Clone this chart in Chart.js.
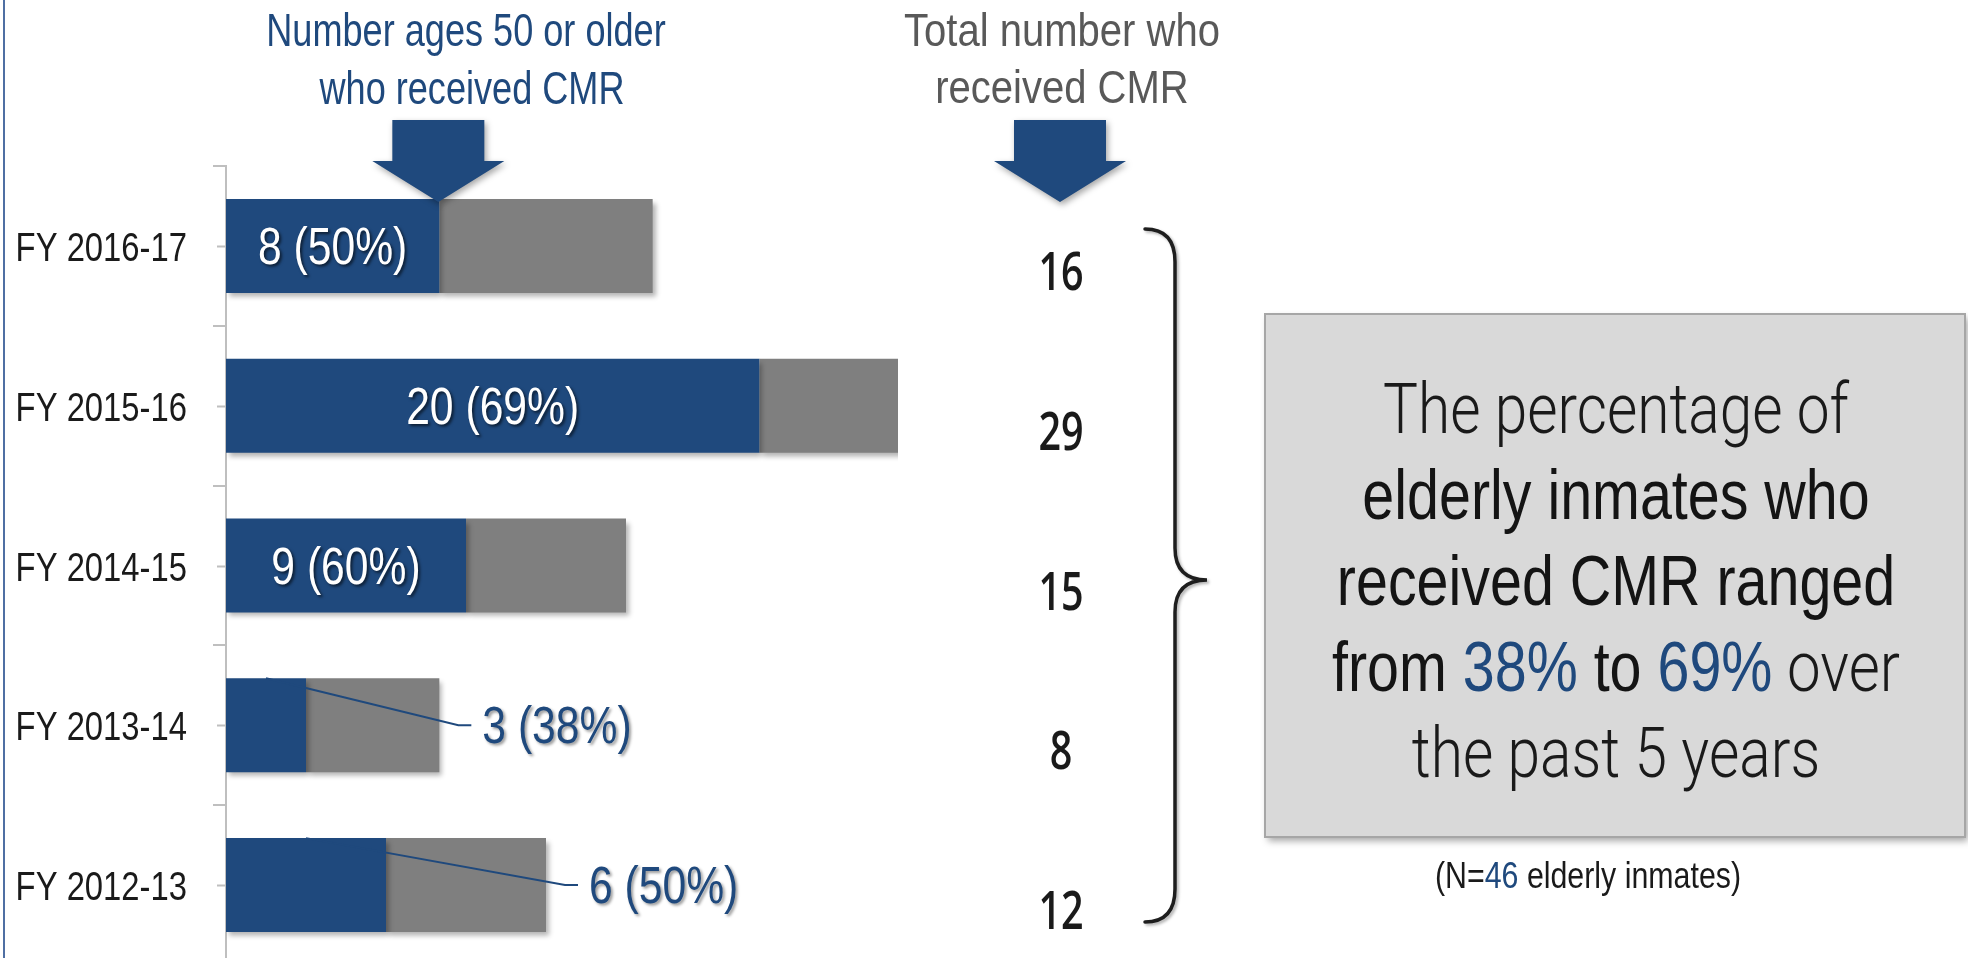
<!DOCTYPE html>
<html>
<head>
<meta charset="utf-8">
<title>Elderly inmates who received CMR</title>
<script src="https://cdn.jsdelivr.net/npm/chart.js@4.4.1/dist/chart.umd.min.js"></script>
<style>
  html, body { margin: 0; padding: 0; background: #ffffff; overflow: hidden; width: 1968px; height: 958px; }
  #wrap { position: absolute; left: 0; top: 0; width: 1968px; height: 980px; }
  canvas { display: block; }
</style>
</head>
<body>
<div id="wrap"><canvas id="cmr" width="1968" height="980"></canvas></div>
<script>
// Fiscal years, newest first (top bar)
const fiscalYears = ['FY 2016-17', 'FY 2015-16', 'FY 2014-15', 'FY 2013-14', 'FY 2012-13'];
// Inmates aged 50 or older who received CMR
const olderCounts = [8, 20, 9, 3, 6];
// Total inmates who received CMR
const totalCounts = [16, 29, 15, 8, 12];
// Range of the value scale (the 29 bar runs past it and is clipped)
const valueAxisMax = 25.2;
// Elderly population in the note under the box
const elderlyTotal = 46;

// Gray segment: the rest of each total
const remainderCounts = totalCounts.map((t, i) => t - olderCounts[i]);
const percentOlder = olderCounts.map((v, i) => Math.round(v / totalCounts[i] * 100));
const valueLabels = olderCounts.map((v, i) => v + ' (' + percentOlder[i] + '%)');

const SANS = '"Liberation Sans", Arial, sans-serif';
const LIGHT = 'Roboto, "Liberation Sans", sans-serif';
const NUMS = '"Open Sans", "Liberation Sans", sans-serif';
const NARROW_X = 0.82;          // horizontal squeeze that turns Arial metrics into Arial Narrow
const BLUE = '#1f497d';
const GRAY_BAR = '#7f7f7f';
const INK = '#1a1a1a';

// Text drawn with a horizontal squeeze; align is 'left' | 'center' | 'right'
function narrowWidth(ctx, text, size, weight, family, sx) {
  ctx.font = (weight || 'normal') + ' ' + size + 'px ' + (family || SANS);
  return ctx.measureText(text).width * (sx || NARROW_X);
}
function narrowText(ctx, text, x, y, opt) {
  const sx = opt.sx || NARROW_X;
  const w = narrowWidth(ctx, text, opt.size, opt.weight, opt.family, sx);
  let x0 = x;
  if (opt.align === 'center') x0 = x - w / 2;
  else if (opt.align === 'right') x0 = x - w;
  ctx.save();
  ctx.fillStyle = opt.color || INK;
  ctx.textAlign = 'left';
  ctx.textBaseline = opt.baseline || 'alphabetic';
  ctx.translate(x0, y);
  ctx.scale(sx, 1);
  ctx.fillText(text, 0, 0);
  ctx.restore();
  return w;
}

// A centred line made of differently styled runs
function drawRuns(ctx, runs, cx, baseline) {
  runs.forEach(r => {
    if (r.light) {
      // light face squeezed to the width the narrow face would take
      const target = narrowWidth(ctx, r.text, r.size, 'normal', SANS, NARROW_X);
      const natural = narrowWidth(ctx, r.text, r.size, '300', LIGHT, 1);
      r.family = LIGHT; r.weight = '300'; r.sx = target / natural;
    }
    r.w = narrowWidth(ctx, r.text, r.size, r.weight, r.family, r.sx);
  });
  const total = runs.reduce((s, r) => s + r.w, 0);
  let x = cx - total / 2;
  runs.forEach(r => {
    narrowText(ctx, r.text, x, baseline, r);
    x += r.w;
  });
}

function drawArrow(ctx, cx, shaftHalf, headHalf, top, base, tip) {
  ctx.save();
  ctx.shadowColor = 'rgba(0,0,0,0.35)';
  ctx.shadowBlur = 6;
  ctx.shadowOffsetX = 2;
  ctx.shadowOffsetY = 3;
  ctx.fillStyle = BLUE;
  ctx.beginPath();
  ctx.moveTo(cx - shaftHalf, top);
  ctx.lineTo(cx + shaftHalf, top);
  ctx.lineTo(cx + shaftHalf, base);
  ctx.lineTo(cx + headHalf, base);
  ctx.lineTo(cx, tip);
  ctx.lineTo(cx - headHalf, base);
  ctx.lineTo(cx - shaftHalf, base);
  ctx.closePath();
  ctx.fill();
  ctx.restore();
}

const barShadow = {
  id: 'barShadow',
  beforeDatasetsDraw(chart) {
    const ctx = chart.ctx;
    ctx.save();
    ctx.shadowColor = 'rgba(0,0,0,0.30)';
    ctx.shadowBlur = 5;
    ctx.shadowOffsetX = 3;
    ctx.shadowOffsetY = 4;
  },
  afterDatasetsDraw(chart) {
    chart.ctx.restore();
  }
};

const LABEL_SIZE = 52;

const decorations = {
  id: 'decorations',
  afterDraw(chart) {
    const ctx = chart.ctx;
    const xs = chart.scales.x;
    const ys = chart.scales.y;
    const area = chart.chartArea;

    // slide border on the left
    ctx.save();
    ctx.strokeStyle = '#4f6fa3';
    ctx.lineWidth = 2;
    ctx.beginPath();
    ctx.moveTo(4, 0);
    ctx.lineTo(4, chart.height);
    ctx.stroke();
    ctx.restore();

    // category labels and the short tick at each category centre
    ctx.save();
    ctx.strokeStyle = '#bfbfbf';
    ctx.lineWidth = 2;
    chart.data.labels.forEach((lab, i) => {
      const yc = ys.getPixelForTick(i);
      const y = Math.round(yc) + 0.5;
      ctx.beginPath();
      ctx.moveTo(area.left - 9, y);
      ctx.lineTo(area.left, y);
      ctx.stroke();
      narrowText(ctx, lab, area.left - 39, yc + 15, { size: 41, align: 'right', color: INK, sx: 0.8 });
    });
    ctx.restore();

    // column headings
    narrowText(ctx, 'Number ages 50 or older', 466, 46, { size: 46, align: 'center', color: BLUE, sx: 0.785 });
    narrowText(ctx, 'who received CMR', 472, 104, { size: 46, align: 'center', color: BLUE, sx: 0.785 });
    narrowText(ctx, 'Total number who', 1062, 46, { size: 46, align: 'center', color: '#595959', sx: 0.87 });
    narrowText(ctx, 'received CMR', 1062, 103, { size: 46, align: 'center', color: '#595959', sx: 0.87 });

    // arrows: the first points at the end of the top blue bar
    const tipX = xs.getPixelForValue(olderCounts[0]);
    drawArrow(ctx, tipX - 1, 46, 66, 120, 161, 202);
    drawArrow(ctx, 1060, 46, 66, 120, 161, 202);

    // value labels for the 50+ segment: inside when there is room, else outside with a leader
    const blueMeta = chart.getDatasetMeta(0);
    const grayMeta = chart.getDatasetMeta(1);
    valueLabels.forEach((txt, i) => {
      const bar = blueMeta.data[i];
      const grayBar = grayMeta.data[i];
      const left = xs.getPixelForValue(0);
      const right = bar.x;
      const cy = bar.y;
      const half = bar.height / 2;
      const w = narrowWidth(ctx, txt, LABEL_SIZE);
      const base = cy + 18;
      if (w + 50 < right - left) {
        ctx.save();
        ctx.shadowColor = 'rgba(0,0,0,0.6)';
        ctx.shadowBlur = 3;
        ctx.shadowOffsetX = 2;
        ctx.shadowOffsetY = 2;
        narrowText(ctx, txt, (left + right) / 2, base, { size: LABEL_SIZE, align: 'center', color: '#ffffff' });
        ctx.restore();
      } else {
        const labelLeft = Math.min(grayBar.x, area.right) + 43;
        ctx.save();
        ctx.strokeStyle = BLUE;
        ctx.lineWidth = 2;
        ctx.beginPath();
        ctx.moveTo((left + right) / 2, cy - half);
        ctx.lineTo(labelLeft - 24, cy);
        ctx.lineTo(labelLeft - 11, cy);
        ctx.stroke();
        ctx.restore();
        ctx.save();
        ctx.shadowColor = 'rgba(0,0,0,0.4)';
        ctx.shadowBlur = 3;
        ctx.shadowOffsetX = 2;
        ctx.shadowOffsetY = 2;
        narrowText(ctx, txt, labelLeft, base, { size: LABEL_SIZE, align: 'left', color: BLUE });
        ctx.restore();
      }
    });

    // totals column
    totalCounts.forEach((t, i) => {
      narrowText(ctx, String(t), 1061, ys.getPixelForValue(i) + 26 + 18,
        { size: 52, weight: '600', family: NUMS, sx: 0.76, align: 'center', color: INK });
    });

    // curly brace grouping the totals
    ctx.save();
    ctx.shadowColor = 'rgba(0,0,0,0.3)';
    ctx.shadowBlur = 3;
    ctx.shadowOffsetX = 2;
    ctx.shadowOffsetY = 2;
    ctx.strokeStyle = '#1e1e1e';
    ctx.lineWidth = 3.5;
    ctx.lineCap = 'round';
    ctx.beginPath();
    ctx.moveTo(1145, 229);
    ctx.quadraticCurveTo(1175, 229, 1175, 262);
    ctx.lineTo(1175, 548);
    ctx.quadraticCurveTo(1175, 580, 1207, 580);
    ctx.quadraticCurveTo(1175, 580, 1175, 612);
    ctx.lineTo(1175, 889);
    ctx.quadraticCurveTo(1175, 922, 1145, 922);
    ctx.stroke();
    ctx.restore();

    // summary box
    ctx.save();
    ctx.shadowColor = 'rgba(0,0,0,0.35)';
    ctx.shadowBlur = 7;
    ctx.shadowOffsetX = 3;
    ctx.shadowOffsetY = 4;
    ctx.fillStyle = '#d9d9d9';
    ctx.fillRect(1265, 314, 700, 523);
    ctx.restore();
    ctx.save();
    ctx.strokeStyle = '#a6a6a6';
    ctx.lineWidth = 2;
    ctx.strokeRect(1265, 314, 700, 523);
    ctx.restore();

    const minPct = Math.min(...percentOlder) + '%';
    const maxPct = Math.max(...percentOlder) + '%';
    const S = 70;
    const bx = 1616;
    drawRuns(ctx, [{ text: 'The percentage of', size: S, light: true, color: INK }], bx, 433);
    drawRuns(ctx, [{ text: 'elderly inmates who', size: S, color: '#141414' }], bx, 519);
    drawRuns(ctx, [{ text: 'received CMR ranged', size: S, color: '#141414' }], bx, 605);
    drawRuns(ctx, [
      { text: 'from ', size: S, color: '#141414' },
      { text: minPct, size: S, color: BLUE },
      { text: ' to ', size: S, color: '#141414' },
      { text: maxPct, size: S, color: BLUE },
      { text: ' over', size: S, light: true, color: INK }
    ], bx, 691);
    drawRuns(ctx, [{ text: 'the past 5 years', size: S, light: true, color: INK }], bx, 777);

    drawRuns(ctx, [
      { text: '(N=', size: 37, color: INK },
      { text: String(elderlyTotal), size: 37, color: BLUE },
      { text: ' elderly inmates)', size: 37, color: INK }
    ], 1588, 888);
  }
};

new Chart(document.getElementById('cmr'), {
  type: 'bar',
  data: {
    labels: fiscalYears,
    datasets: [
      {
        label: 'Ages 50 or older',
        data: olderCounts,
        backgroundColor: BLUE,
        borderWidth: 0,
        barPercentage: 1,
        categoryPercentage: 0.588,
        clip: 0
      },
      {
        label: 'Other inmates',
        data: remainderCounts,
        backgroundColor: GRAY_BAR,
        borderWidth: 0,
        barPercentage: 1,
        categoryPercentage: 0.588,
        clip: 0
      }
    ]
  },
  options: {
    indexAxis: 'y',
    responsive: false,
    animation: false,
    devicePixelRatio: 1,
    layout: { padding: { top: 166, right: 1968 - 898, bottom: 15, left: 0 } },
    plugins: {
      legend: { display: false },
      tooltip: { enabled: false },
      title: { display: false }
    },
    scales: {
      x: {
        stacked: true,
        min: 0,
        max: valueAxisMax,
        display: false
      },
      y: {
        stacked: true,
        afterFit(scale) {
          scale.width = 226;
          scale.paddingTop = 0;
          scale.paddingBottom = 0;
        },
        grid: {
          offset: true,
          drawOnChartArea: false,
          drawTicks: true,
          tickLength: 13,
          color: '#bfbfbf',
          lineWidth: 2
        },
        border: { display: true, color: '#bfbfbf', width: 2 },
        ticks: { display: false }
      }
    }
  },
  plugins: [barShadow, decorations]
});
</script>
</body>
</html>
